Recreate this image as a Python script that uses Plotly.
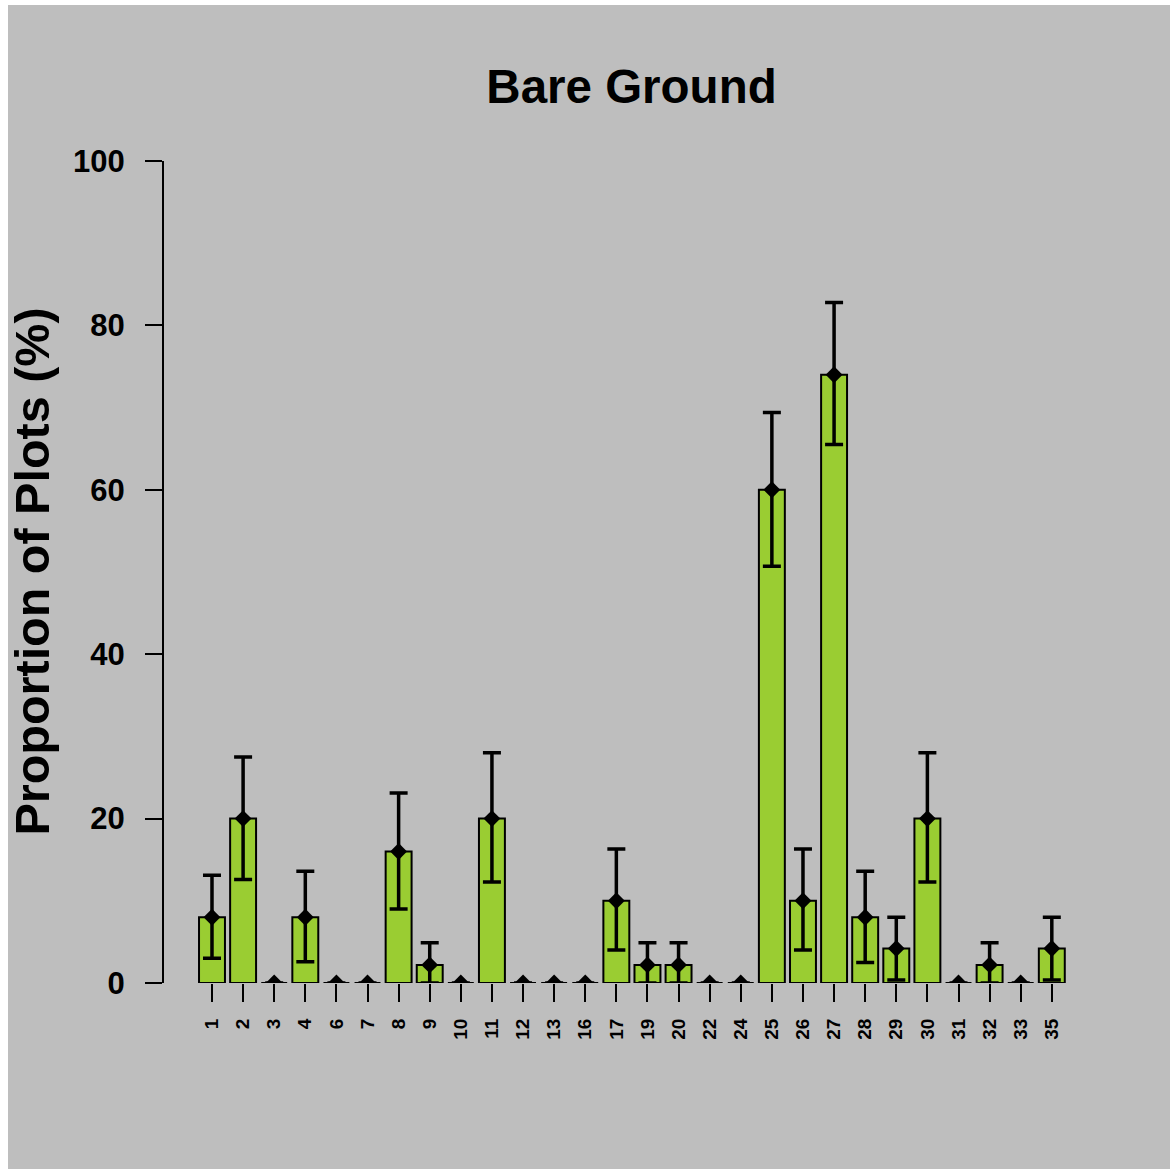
import plotly.graph_objects as go

categories = ["1", "2", "3", "4", "6", "7", "8", "9", "10", "11", "12", "13", "16", "17",
              "19", "20", "22", "24", "25", "26", "27", "28", "29", "30", "31", "32", "33", "35"]
values = [8, 20, 0, 8, 0, 0, 16, 2.2, 0, 20, 0, 0, 0, 10,
          2.2, 2.2, 0, 0, 60, 10, 74, 8, 4.2, 20, 0, 2.2, 0, 4.2]
upper = [13.1, 27.5, 0, 13.6, 0, 0, 23.1, 4.9, 0, 28.0, 0, 0, 0, 16.3,
         4.9, 4.9, 0, 0, 69.4, 16.3, 82.8, 13.6, 8.0, 28.0, 0, 4.9, 0, 8.0]
lower = [3.0, 12.6, 0, 2.6, 0, 0, 9.0, 0, 0, 12.3, 0, 0, 0, 4.0,
         0, 0, 0, 0, 50.7, 4.0, 65.5, 2.5, 0.35, 12.3, 0, 0, 0, 0.35]
yticks = [0, 20, 40, 60, 80, 100]

err_plus = [u - v for u, v in zip(upper, values)]
err_minus = [v - l for v, l in zip(values, lower)]

FONT = "Liberation Sans, Arial, Helvetica, sans-serif"
GRAY = "#BEBEBE"

fig = go.Figure()
fig.add_trace(go.Bar(
    x=categories, y=values,
    marker=dict(color="#9ACD32", line=dict(color="black", width=2)),
    showlegend=False, hoverinfo="skip",
))
fig.add_trace(go.Scatter(
    x=categories, y=values, mode="markers",
    marker=dict(symbol="diamond", size=13, color="black"),
    error_y=dict(type="data", symmetric=False, array=err_plus, arrayminus=err_minus,
                 color="black", thickness=3.5, width=9),
    showlegend=False, cliponaxis=True,
))

W, H = 1170, 1169
L, R, T, B = 164, 1105, 161, 983
pw, ph = R - L, B - T

fig.add_shape(type="rect", xref="paper", yref="paper",
              x0=(8 - L) / pw, x1=(W - L) / pw + 0.01,
              y0=(B - H) / ph - 0.01, y1=(B - 5) / ph,
              fillcolor=GRAY, line=dict(width=0), layer="below")

fig.add_annotation(text="<b>Proportion of Plots (%)</b>", textangle=-90,
                   xref="paper", yref="paper", x=(31 - L) / pw, y=(B - 571.5) / ph,
                   xanchor="center", yanchor="middle", showarrow=False,
                   font=dict(family=FONT, size=48.5, color="black"))

fig.update_layout(
    width=W, height=H,
    margin=dict(l=L, r=W - R, t=T, b=H - B, pad=0),
    paper_bgcolor="white", plot_bgcolor=GRAY,
    bargap=0.166,
    title=dict(text="<b>Bare Ground</b>", font=dict(family=FONT, size=47.5, color="black"),
               x=631.5 / W, xref="container", xanchor="center",
               y=1 - 86 / H, yref="container", yanchor="middle"),
    xaxis=dict(type="category", range=[-1.543, 28.71], showline=False, showgrid=False,
               zeroline=False, ticks="outside", ticklen=18, tickwidth=2, tickcolor="black",
               tickangle=-90, ticklabelstandoff=9,
               tickfont=dict(family=FONT, size=19, color="black", weight="bold")),
    yaxis=dict(range=[0, 100], tickvals=yticks, ticktext=[str(t) for t in yticks],
               showline=True, linecolor="black", linewidth=2, showgrid=False, zeroline=False,
               ticks="outside", ticklen=17, tickwidth=2, tickcolor="black",
               ticklabelstandoff=14,
               tickfont=dict(family=FONT, size=31, color="black", weight="bold")),
)

fig.write_html("out.html")
